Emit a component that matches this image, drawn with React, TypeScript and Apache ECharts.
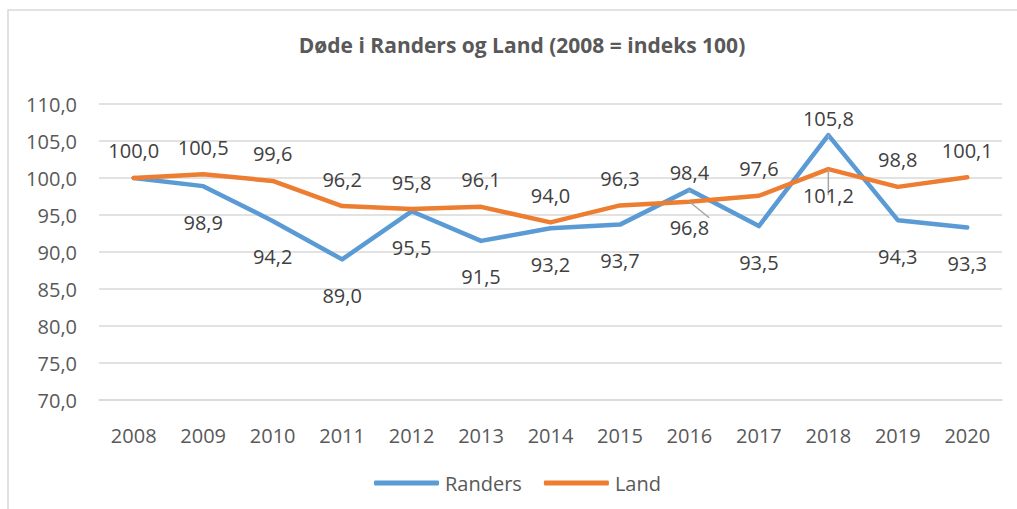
import React, { useEffect, useRef } from "react";
import * as echarts from "echarts";

const years = ["2008", "2009", "2010", "2011", "2012", "2013", "2014", "2015", "2016", "2017", "2018", "2019", "2020"];
const randers = [100.0, 98.9, 94.2, 89.0, 95.5, 91.5, 93.2, 93.7, 98.4, 93.5, 105.8, 94.3, 93.3];
const land = [100.0, 100.5, 99.6, 96.2, 95.8, 96.1, 94.0, 96.3, 96.8, 97.6, 101.2, 98.8, 100.1];
const randersLabelPos = ["none", "bottom", "bottom", "bottom", "bottom", "bottom", "bottom", "bottom", "top", "bottom", "top", "bottom", "bottom"];
const landLabelPos = ["top", "top", "top", "top", "top", "top", "top", "top", "bottom", "top", "bottom", "top", "top"];
const leaderIdx = [8, 10];

const fmt = (v: number) => v.toFixed(1).replace(".", ",");
const FONT = "'Open Sans', 'Noto Sans', sans-serif";

export default function App() {
  const ref = useRef<HTMLDivElement>(null);
  useEffect(() => {
    if (!ref.current) return;
    const chart = echarts.init(ref.current, null, { renderer: "svg" });
    const mk = (vals: number[], pos: string[], topDist: number, botDist: number) =>
      vals.map((v, i) => ({
        value: v,
        label: {
          show: pos[i] !== "none",
          position: pos[i] === "none" ? "top" : pos[i],
          distance: pos[i] === "top" ? topDist : botDist,
        },
        labelLine: {
          show: leaderIdx.includes(i),
          lineStyle: { color: "#a6a6a6", width: 1.5 },
        },
      }));
    chart.setOption({
      animation: false,
      backgroundColor: "#ffffff",
      textStyle: { fontFamily: FONT },
      graphic: [
        {
          type: "rect",
          shape: { x: 8, y: 10, width: 1030, height: 520 },
          style: { fill: "none", stroke: "#d9d9d9", lineWidth: 1.5 },
          silent: true,
        },
        {
          type: "text",
          x: 522,
          y: 45,
          style: {
            text: "Døde i Randers og Land (2008 = indeks 100)",
            fill: "#595959",
            font: `bold 21px ${FONT}`,
            textAlign: "center",
            textVerticalAlign: "middle",
          },
        },
      ],
      grid: { left: 99, right: 15, top: 104, bottom: 109, containLabel: false },
      legend: {
        left: 369,
        top: 468,
        itemWidth: 65,
        itemHeight: 5,
        itemGap: 22,
        icon: "roundRect",
        textStyle: { fontSize: 20, color: "#595959", fontFamily: FONT, padding: [0, 0, 0, 1] },
        data: ["Randers", "Land"],
      },
      xAxis: {
        type: "category",
        data: years,
        boundaryGap: true,
        axisLine: { show: true, lineStyle: { color: "#d9d9d9", width: 1.5 } },
        axisTick: { show: false },
        axisLabel: { fontSize: 20, color: "#595959", margin: 25, fontFamily: FONT },
      },
      yAxis: {
        type: "value",
        min: 70,
        max: 110,
        interval: 5,
        axisLine: { show: false },
        axisTick: { show: false },
        splitLine: { lineStyle: { color: "#d9d9d9", width: 1.5 } },
        axisLabel: { fontSize: 20, color: "#595959", margin: 22, fontFamily: FONT, formatter: (v: number) => fmt(v) },
      },
      series: [
        {
          name: "Randers",
          type: "line",
          data: mk(randers, randersLabelPos, 7, 26),
          symbol: "circle",
          symbolSize: 0.1,
          showSymbol: true,
          lineStyle: { color: "#5B9BD5", width: 4.5, cap: "round", join: "round" },
          itemStyle: { color: "#5B9BD5" },
          label: { show: true, fontSize: 20, color: "#404040", fontFamily: FONT, formatter: (p: any) => fmt(p.value) },
          z: 2,
        },
        {
          name: "Land",
          type: "line",
          data: mk(land, landLabelPos, 17, 16),
          symbol: "circle",
          symbolSize: 0.1,
          showSymbol: true,
          lineStyle: { color: "#ED7D31", width: 4.5, cap: "round", join: "round" },
          itemStyle: { color: "#ED7D31" },
          label: { show: true, fontSize: 20, color: "#404040", fontFamily: FONT, formatter: (p: any) => fmt(p.value) },
          z: 3,
        },
      ],
    });
    return () => chart.dispose();
  }, []);
  return <div ref={ref} style={{ position: "fixed", left: 0, top: 0, width: 1017, height: 509 }} />;
}
